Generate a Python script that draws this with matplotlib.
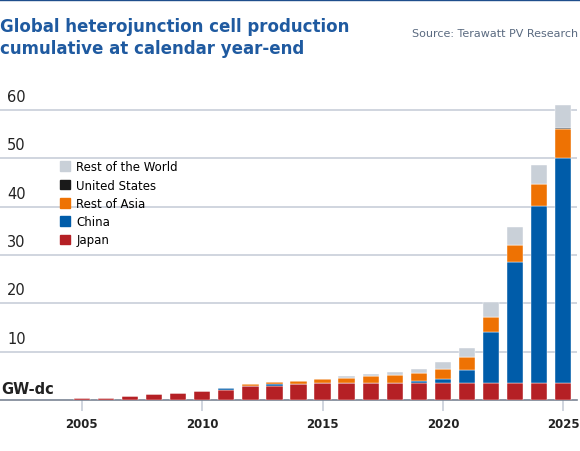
import matplotlib.pyplot as plt
import numpy as np
from matplotlib.patches import Patch

years = np.arange(2005, 2026)
japan = [0.5, 0.5, 0.8, 1.2, 1.5, 1.9, 2.1, 2.8, 2.8, 3.2, 3.6, 3.6, 3.6, 3.6, 3.6, 3.6, 3.6, 3.6, 3.6, 3.6, 3.6]
china = [0, 0, 0, 0, 0, 0, 0.4, 0, 0.4, 0, 0, 0, 0, 0, 0.3, 0.7, 2.5, 10.5, 25.0, 36.6, 46.5]
rest_asia = [0, 0, 0, 0, 0, 0, 0, 0.5, 0.5, 0.7, 0.7, 1.0, 1.4, 1.6, 1.7, 2.0, 2.7, 3.1, 3.5, 4.5, 6.0]
us = [0, 0, 0, 0, 0, 0, 0, 0, 0, 0, 0, 0, 0, 0, 0, 0, 0, 0, 0, 0, 0.2]
rest_world = [0, 0, 0, 0, 0, 0, 0, 0, 0, 0, 0, 0.4, 0.4, 0.6, 0.8, 1.6, 2.0, 3.0, 3.6, 4.0, 4.8]

series = [("Japan", japan, "#b52025"), ("China", china, "#005ca9"),
          ("Rest of Asia", rest_asia, "#ee7203"), ("United States", us, "#1a1a1a"),
          ("Rest of the World", rest_world, "#c9d0d8")]

fig = plt.figure(figsize=(5.8, 4.52), dpi=100)
ax = fig.add_axes([0.0, 0.113, 0.994, 0.71])
bottom = np.zeros(len(years))
for name, vals, col in series:
    ax.bar(years, vals, bottom=bottom, width=0.68, color=col, edgecolor='white', linewidth=0.3, zorder=3)
    bottom += np.array(vals)

ax.set_xlim(2001.6, 2025.55)
ax.set_ylim(0, 66.4)
ax.set_yticks([10, 20, 30, 40, 50, 60])
ax.grid(axis='y', color='#c8ced9', linewidth=1.2, zorder=0)
ax.tick_params(axis='y', length=0, labelleft=False)
for v in [10, 20, 30, 40, 50, 60]:
    ax.text(2001.9, v + 1.2, str(v), fontsize=10.5, color='#222222', va='bottom')
ax.text(2001.65, 0.9, "GW-dc", fontsize=10.5, fontweight='bold', color='#222222', va='bottom')
for s in ['top', 'right', 'left']:
    ax.spines[s].set_visible(False)
ax.spines['bottom'].set_color('#7a8494')
ax.spines['bottom'].set_linewidth(1.2)
ax.set_xticks([2005, 2010, 2015, 2020, 2025])
ax.tick_params(axis='x', length=8, color='#c8ced9', width=1.2, labelsize=8.5, pad=4)
for lab in ax.get_xticklabels():
    lab.set_fontweight('bold')
    lab.set_color('#222222')

handles = [Patch(color=c, label=n) for n, v, c in series][::-1]
ax.legend(handles=handles, loc='upper left', bbox_to_anchor=(0.085, 0.78), frameon=False,
          fontsize=8.5, handlelength=0.9, handleheight=0.9, handletextpad=0.5, labelspacing=0.45)

fig.add_artist(plt.Line2D([0, 1], [0.997, 0.997], color='#1f4e8c', linewidth=1.0))
fig.text(0.0, 0.96, "Global heterojunction cell production\ncumulative at calendar year-end",
         fontsize=12, fontweight='semibold', color='#1f5aa0', va='top', linespacing=1.3)
fig.text(0.997, 0.935, "Source: Terawatt PV Research", fontsize=8, color='#5a6a80', ha='right', va='top')

fig.savefig("out.png", dpi=100)
